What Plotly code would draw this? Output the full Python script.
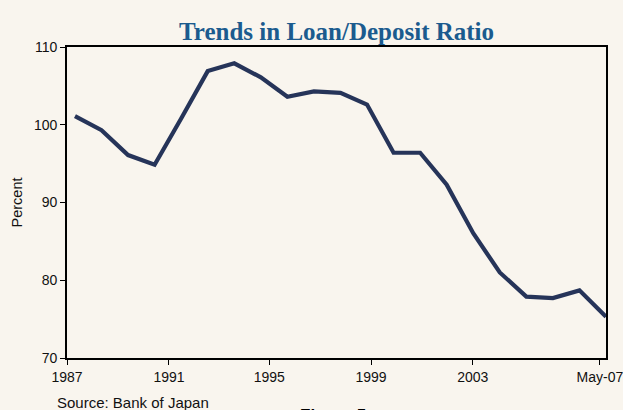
import plotly.graph_objects as go

# Data (annual observations 1987-2006, then May 2007)
periods = ["1987", "1988", "1989", "1990", "1991", "1992", "1993", "1994", "1995",
           "1996", "1997", "1998", "1999", "2000", "2001", "2002", "2003", "2004",
           "2005", "2006", "May-07"]
ratio = [101.1, 99.3, 96.1, 94.85, 100.8, 106.9, 107.9, 106.1, 103.6, 104.3,
         104.1, 102.6, 96.4, 96.4, 92.3, 86.05, 81.0, 77.9, 77.7, 78.7, 75.3]

tick_labels = ["1987", "1991", "1995", "1999", "2003", "May-07"]
tick_pos = [-0.299, 3.54, 7.32, 11.15, 14.98, 19.77]  # styling: label positions

idx = list(range(len(periods)))

bg = "#f9f5ee"
fig = go.Figure()
fig.add_trace(go.Scatter(
    x=idx, y=ratio, mode="lines",
    line=dict(color="#263459", width=4.2),
    hovertext=periods, hoverinfo="text+y",
    showlegend=False,
))

axis_font = dict(family="Liberation Sans, Arial, sans-serif", size=14, color="#111111")

fig.update_layout(
    width=623, height=410,
    paper_bgcolor=bg, plot_bgcolor=bg,
    margin=dict(l=67, r=17, t=46.5, b=51.7),
    title=dict(
        text="<b>Trends in Loan/Deposit Ratio</b>",
        font=dict(family="Liberation Serif, Times New Roman, serif", size=25, color="#1b5b8e"),
        xref="paper", x=0.5, xanchor="center", yref="container", y=0.925, yanchor="middle",
    ),
    xaxis=dict(
        range=[-0.3, 20.0], tickvals=tick_pos, ticktext=tick_labels,
        showgrid=False, zeroline=False, automargin=False, ticklabeloverflow="allow",
        showline=True, linecolor="#000000", linewidth=1.6, mirror=True,
        ticks="outside", ticklen=5, tickwidth=1.2, tickcolor="#000000",
        tickfont=axis_font,
    ),
    yaxis=dict(
        range=[70, 110], tickvals=[70, 80, 90, 100, 110],
        showgrid=False, zeroline=False, automargin=False,
        showline=True, linecolor="#000000", linewidth=1.6, mirror=True,
        ticks="outside", ticklen=5, tickwidth=1.2, tickcolor="#000000",
        tickfont=axis_font,
        title=dict(text="Percent", font=dict(family="Liberation Sans, Arial, sans-serif", size=14.5, color="#111111"), standoff=8),
    ),
    annotations=[
        dict(text="Source: Bank of Japan", xref="paper", yref="paper",
             x=-0.022, y=-0.108, xanchor="left", yanchor="top", showarrow=False,
             font=dict(family="Liberation Sans, Arial, sans-serif", size=15, color="#111111")),
        dict(text="<b>Figure 5</b>", xref="paper", yref="paper",
             x=0.4286, y=-0.149, xanchor="left", yanchor="top", showarrow=False,
             font=dict(family="Liberation Sans, Arial, sans-serif", size=17, color="#000000")),
    ],
)

fig.write_html("out.html")
